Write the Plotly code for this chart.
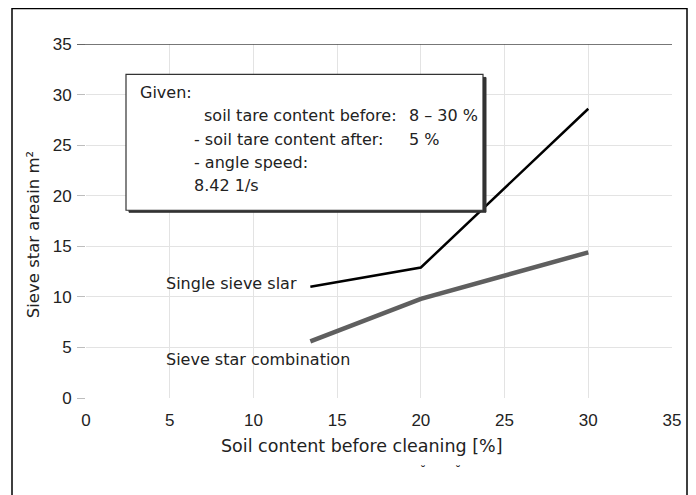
import plotly.graph_objects as go

# Data
x_single = [13.4, 20, 30]
y_single = [11.0, 12.9, 28.6]
x_combo = [13.4, 20, 30]
y_combo = [5.6, 9.8, 14.4]
x_ticks = [0, 5, 10, 15, 20, 25, 30, 35]
y_ticks = [0, 5, 10, 15, 20, 25, 30, 35]

TXT = "DejaVu Sans"
NUM = "Liberation Sans"

fig = go.Figure()
fig.add_trace(go.Scatter(x=x_combo, y=y_combo, mode="lines",
                         line=dict(color="#5f5f5f", width=4.5), showlegend=False))
fig.add_trace(go.Scatter(x=x_single, y=y_single, mode="lines",
                         line=dict(color="#000000", width=2.5), showlegend=False))

# pixel helpers for plot area 86..672 x 43.5..398 (window pixels)
def px(x):
    return (x - 86) / 586.0

def py(y):
    return (398 - y) / 354.5

shapes = [
    # outer frame
    dict(type="rect", xref="paper", yref="paper", x0=px(12), x1=px(687), y0=py(505), y1=py(8),
         line=dict(color="#000", width=1.5), fillcolor="rgba(0,0,0,0)", layer="above"),
    # top line at 35
    dict(type="line", xref="paper", yref="y", x0=px(77), x1=1.0, y0=35, y1=35,
         line=dict(color="#4a4a4a", width=1.5), layer="above"),
    # text box shadow
    dict(type="rect", xref="paper", yref="paper", x0=px(129), x1=px(486), y0=py(212), y1=py(77),
         line=dict(color="#333", width=1), fillcolor="#333", layer="above"),
    # text box
    dict(type="rect", xref="paper", yref="paper", x0=px(126), x1=px(483), y0=py(210), y1=py(74),
         line=dict(color="#333", width=1.2), fillcolor="#ffffff", layer="above"),
]

FS = 16

def ann(text, x, y, size=FS):
    return dict(text=text, x=px(x), y=py(y), xref="paper", yref="paper", xanchor="left",
                yanchor="middle", showarrow=False, font=dict(family=TXT, size=size, color="#222"))

annotations = [
    ann("Given:", 138, 92),
    ann("soil tare content before:", 202, 115),
    ann("8 – 30 %", 407, 115),
    ann("- soil tare content after:", 192, 139),
    ann("5 %", 407, 139),
    ann("- angle speed:", 192, 162),
    ann("8.42 1/s", 192, 185),
    ann("Single sieve slar", 164, 283),
    ann("Sieve star combination", 164, 359),
    # axis titles
    dict(text="Soil content before cleaning [%]", xref="paper", yref="paper",
         x=px(362), y=py(446), xanchor="center", yanchor="middle", showarrow=False,
         font=dict(family=TXT, size=17.5, color="#222")),
    dict(text="Sieve star areain m²", xref="paper", yref="paper", textangle=-90,
         x=px(33), y=py(235), xanchor="center", yanchor="middle", showarrow=False,
         font=dict(family=TXT, size=16.5, color="#222")),
    # small marks under the x title
    dict(text="˘", xref="paper", yref="paper", x=px(423), y=py(480),
         showarrow=False, font=dict(family=TXT, size=12, color="#333")),
    dict(text="˘", xref="paper", yref="paper", x=px(458), y=py(480),
         showarrow=False, font=dict(family=TXT, size=12, color="#333")),
]

fig.update_layout(
    width=688, height=487,
    margin=dict(l=78, r=24, t=35.5, b=97),
    paper_bgcolor="#ffffff", plot_bgcolor="#ffffff",
    shapes=shapes, annotations=annotations,
    xaxis=dict(range=[0, 35], tickvals=x_ticks, showgrid=True, gridcolor="#e3e3e3",
               gridwidth=1, zeroline=False, showline=False, ticks="",
               tickfont=dict(family=NUM, size=17, color="#222"), ticklabelstandoff=10),
    yaxis=dict(range=[0, 35], tickvals=y_ticks, showgrid=True, gridcolor="#e3e3e3",
               gridwidth=1, zeroline=False, showline=False, ticks="outside", ticklen=8,
               tickcolor="#bdbdbd", tickfont=dict(family=NUM, size=17, color="#222"),
               ticklabelstandoff=2),
)

fig.write_html("out.html")
